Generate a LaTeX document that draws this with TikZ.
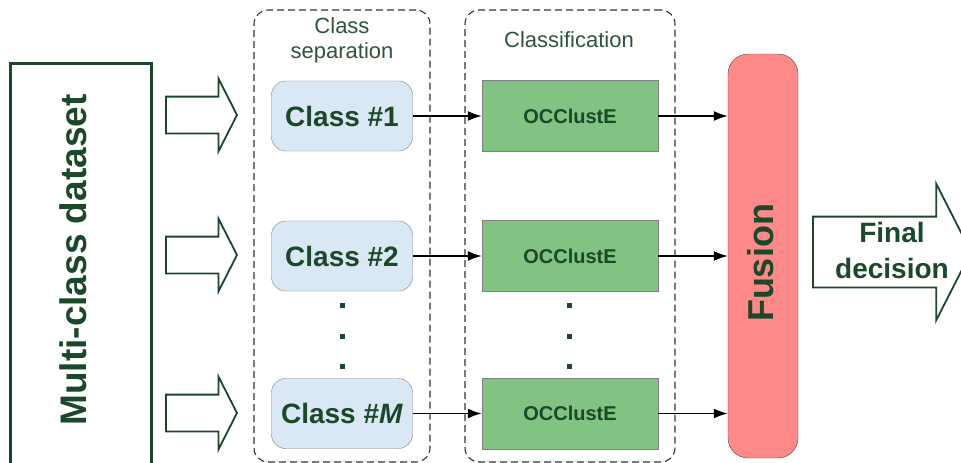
\documentclass[tikz,border=0pt]{standalone}
\usepackage{fontspec}
\setmainfont{Liberation Sans}
\usetikzlibrary{arrows.meta,shapes.arrows}
\definecolor{dgreen}{RGB}{28,72,42}
\definecolor{clsblue}{RGB}{218,232,245}
\definecolor{occgreen}{RGB}{130,194,130}
\definecolor{fuspink}{RGB}{255,136,136}

\begin{document}
\begin{tikzpicture}[x=1pt,y=-1pt,>={Latex[length=14pt,width=10pt]},
 fat/.style={single arrow,draw=dgreen,line width=1.8pt,fill=white,inner xsep=0pt,single arrow tip angle=126,anchor=tip},
 grp/.style={draw=black!80,dashed,dash pattern=on 7pt off 4pt,rounded corners=14pt,line width=1.1pt},
 ttl/.style={text=dgreen!80!gray,font=\fontsize{22}{25}\selectfont,align=center},
 cls/.style={draw=black!50,fill=clsblue,rounded corners=14pt,minimum width=141pt,minimum height=70pt,font=\bfseries\fontsize{28}{30}\selectfont,text=dgreen},
 occ/.style={draw=black!50,fill=occgreen,minimum width=176pt,minimum height=71pt,font=\bfseries\fontsize{20}{22}\selectfont,text=dgreen},
 dot/.style={fill=dgreen,minimum size=5pt,inner sep=0pt},
 big/.style={text=dgreen,font=\bfseries\fontsize{37}{40}\selectfont}]
\useasboundingbox (0,0) rectangle (961,463);
\node[draw=dgreen,line width=2.5pt,minimum width=141pt,minimum height=420pt,anchor=north west] (data) at (9,62) {};
\node[big,rotate=90] (datatxt) at (73,260) {Multi-class dataset};
\node[fat,inner ysep=17.5pt,single arrow head extend=18pt,minimum height=71pt] (h1) at (238,115) {};
\node[fat,inner ysep=17.5pt,single arrow head extend=18pt,minimum height=71pt] (h2) at (238,255) {};
\node[fat,inner ysep=17.5pt,single arrow head extend=18pt,minimum height=71pt] (h3) at (238,413) {};
\node[grp,minimum width=176pt,minimum height=452pt] (sep) at (342,236) {};\node[ttl] (septxt) at (342,40) {Class\\separation};
\node[grp,minimum width=210pt,minimum height=452pt] (clf) at (570,236) {};\node[ttl] (clftxt) at (569,40) {Classification};
\node[cls] (c1) at (342,116) {Class \#1};\node[cls] (c2) at (342,256) {Class \#2};\node[cls] (c3) at (342,413.5) {Class \#\textit{M}};
\node[occ] (o1) at (570,116) {OCClustE};\node[occ] (o2) at (570,256) {OCClustE};\node[occ] (o3) at (570,413.5) {OCClustE};
\foreach \y [count=\k] in {305,336,366}{\node[dot] (dc\k) at (342,\y) {};\node[dot] (do\k) at (569,\y) {};}
\node[draw=black!70,fill=fuspink,rounded corners=20pt,minimum width=70pt,minimum height=404pt] (fus) at (763,256) {};
\node[big,font=\bfseries\fontsize{36}{40}\selectfont,rotate=90] (fustxt) at (761,263) {Fusion};
\foreach \i in {1,2,3}{\draw[->,line width=1.6pt] (c\i) -- (o\i);\draw[->,line width=1.6pt] (o\i) -- (o\i -| fus.west);}
\node[fat,inner ysep=34.5pt,single arrow head extend=33pt,minimum height=158pt] (out) at (972,252) {};
\node[text=dgreen,font=\bfseries\fontsize{28}{36}\selectfont,align=center] (dec) at (892,250) {Final\\decision};
\end{tikzpicture}
\end{document}
